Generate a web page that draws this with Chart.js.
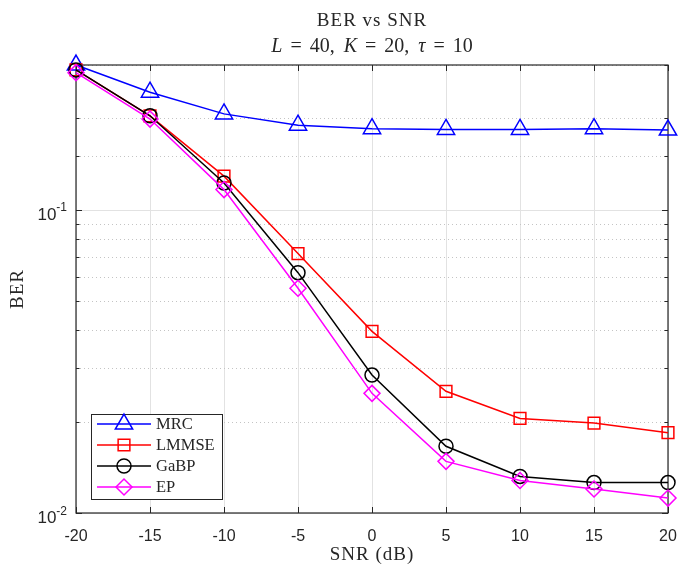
<!DOCTYPE html>
<html>
<head>
<meta charset="utf-8">
<script src="https://cdn.jsdelivr.net/npm/chart.js@4/dist/chart.umd.min.js"></script>
<style>
  html, body { margin: 0; padding: 0; background: #fff; }
  #wrap { width: 680px; height: 567px; }
</style>
</head>
<body>
<div id="wrap"><canvas id="berChart" width="680" height="567"></canvas></div>
<script>
// SNR points (dB) and BER per detector
const snr = [-20, -15, -10, -5, 0, 5, 10, 15, 20];
const berMRC   = [0.300, 0.244, 0.207, 0.190, 0.185, 0.184, 0.184, 0.185, 0.183];
const berLMMSE = [0.289, 0.204, 0.129, 0.0717, 0.0397, 0.0252, 0.0205, 0.0198, 0.0184];
const berGaBP  = [0.289, 0.204, 0.1225, 0.0620, 0.0285, 0.0166, 0.0132, 0.0126, 0.0126];
const berEP    = [0.283, 0.199, 0.1165, 0.0551, 0.0248, 0.0148, 0.0128, 0.0120, 0.0112];

const seriesNames = ['MRC', 'LMMSE', 'GaBP', 'EP'];
const xTickStep = 5;
const yRange = [0.01, 0.3];

const INK = '#262626';
const SERIF = '"Liberation Serif", "DejaVu Serif", serif';
const SANS = '"Liberation Sans", Arial, sans-serif';

// Markers drawn with the same geometry Chart.js uses for its point styles
function drawMarker(ctx, style, x, y, r) {
    ctx.beginPath();
    if (style === 'triangle') {
        for (let i = 0; i < 3; i++) {
            const a = i * 2 * Math.PI / 3;
            const px = x + Math.sin(a) * r, py = y - Math.cos(a) * r;
            i ? ctx.lineTo(px, py) : ctx.moveTo(px, py);
        }
        ctx.closePath();
    } else if (style === 'rect') {
        const s = Math.SQRT1_2 * r;
        ctx.rect(x - s, y - s, 2 * s, 2 * s);
    } else if (style === 'circle') {
        ctx.arc(x, y, r, 0, Math.PI * 2);
    } else if (style === 'rectRot') {
        ctx.moveTo(x - r, y); ctx.lineTo(x, y - r);
        ctx.lineTo(x + r, y); ctx.lineTo(x, y + r);
        ctx.closePath();
    }
    ctx.stroke();
}

function isDecade(v) {
    const l = Math.log10(v);
    return Math.abs(l - Math.round(l)) < 1e-6;
}

// grid, box and inward ticks, drawn under the data like MATLAB axes
const axesFrame = {
    id: 'axesFrame',
    beforeDatasetsDraw(chart) {
        const { ctx, chartArea: a, scales: { x, y } } = chart;
        const L = a.left, R = a.right, T = a.top, B = a.bottom;
        ctx.save();
        ctx.lineWidth = 1;

        x.ticks.forEach(t => {
            const px = Math.round(x.getPixelForValue(t.value)) + 0.5;
            ctx.strokeStyle = '#e2e2e2';
            ctx.beginPath(); ctx.moveTo(px, T); ctx.lineTo(px, B); ctx.stroke();
        });
        y.ticks.forEach(t => {
            const py = Math.round(y.getPixelForValue(t.value)) + 0.5;
            if (isDecade(t.value)) {
                ctx.setLineDash([]);
                ctx.strokeStyle = '#e2e2e2';
            } else {
                ctx.setLineDash([1, 3]);
                ctx.strokeStyle = '#c4c4c4';
            }
            ctx.beginPath(); ctx.moveTo(L, py); ctx.lineTo(R, py); ctx.stroke();
        });
        ctx.setLineDash([]);

        ctx.strokeStyle = INK;
        ctx.lineWidth = 1.2;
        ctx.strokeRect(L, T, R - L, B - T);

        ctx.lineWidth = 1;
        x.ticks.forEach(t => {
            const px = Math.round(x.getPixelForValue(t.value)) + 0.5;
            ctx.beginPath();
            ctx.moveTo(px, B); ctx.lineTo(px, B - 6);
            ctx.moveTo(px, T); ctx.lineTo(px, T + 6);
            ctx.stroke();
        });
        y.ticks.forEach(t => {
            const py = Math.round(y.getPixelForValue(t.value)) + 0.5;
            const len = isDecade(t.value) ? 6 : 3.5;
            ctx.beginPath();
            ctx.moveTo(L, py); ctx.lineTo(L + len, py);
            ctx.moveTo(R, py); ctx.lineTo(R - len, py);
            ctx.stroke();
        });
        ctx.restore();
    },
    afterDraw(chart) {
        const { ctx, chartArea: a, scales: { y } } = chart;
        const cx = (a.left + a.right) / 2;
        ctx.save();
        ctx.fillStyle = INK;
        ctx.textAlign = 'center';
        ctx.textBaseline = 'middle';

        // title, first line
        ctx.font = '19px ' + SERIF;
        ctx.letterSpacing = '1px';
        ctx.fillText('BER vs SNR', cx, 21);

        // title, second line with italic symbols
        const parts = [
            ['L', 1], [' ', 8], ['=', 0], [' ', 8], ['40,', 0], [' ', 9],
            ['K', 1], [' ', 8], ['=', 0], [' ', 8], ['20,', 0], [' ', 9],
            ['\u03c4', 1], [' ', 8], ['=', 0], [' ', 8], ['10', 0]
        ];
        ctx.letterSpacing = '0px';
        ctx.textAlign = 'left';
        const fontOf = it => (it === 1 ? 'italic ' : '') + '20px ' + SERIF;
        let total = 0;
        const widths = parts.map(([s, v]) => {
            if (s === ' ') return v;
            ctx.font = fontOf(v);
            return ctx.measureText(s).width;
        });
        widths.forEach(w => total += w);
        let px = cx - total / 2;
        parts.forEach(([s, v], i) => {
            if (s !== ' ') {
                ctx.font = fontOf(v);
                ctx.fillText(s, px, 47);
            }
            px += widths[i];
        });

        // axis labels
        ctx.textAlign = 'center';
        ctx.font = '19px ' + SERIF;
        ctx.letterSpacing = '1px';
        ctx.fillText('SNR (dB)', cx, 555);
        ctx.save();
        ctx.translate(18, (a.top + a.bottom) / 2);
        ctx.rotate(-Math.PI / 2);
        ctx.fillText('BER', 0, 0);
        ctx.restore();
        ctx.letterSpacing = '0px';

        // decade labels on the log axis: 10^n
        y.ticks.filter(t => isDecade(t.value)).forEach(t => {
            const py = y.getPixelForValue(t.value);
            const exp = String(Math.round(Math.log10(t.value)));
            ctx.textAlign = 'left';
            ctx.textBaseline = 'alphabetic';
            ctx.font = '12px ' + SANS;
            const supW = ctx.measureText(exp).width;
            ctx.font = '17px ' + SANS;
            const baseW = ctx.measureText('10').width;
            const right = a.left - 9;
            ctx.fillText('10', right - supW - baseW, py + 10);
            ctx.font = '12px ' + SANS;
            ctx.fillText(exp, right - supW, py + 1.5);
        });

        // legend box
        const lx = 91, ly = 414, lw = 131, lh = 85;
        ctx.fillStyle = '#fff';
        ctx.fillRect(lx, ly, lw, lh);
        ctx.strokeStyle = INK;
        ctx.lineWidth = 1;
        ctx.strokeRect(lx + 0.5, ly + 0.5, lw, lh);
        ctx.textAlign = 'left';
        ctx.textBaseline = 'middle';
        ctx.font = '16.5px ' + SERIF;
        chart.data.datasets.forEach((ds, i) => {
            const ey = 424 + i * 21;
            ctx.strokeStyle = ds.borderColor;
            ctx.lineWidth = ds.borderWidth;
            ctx.beginPath(); ctx.moveTo(97, ey); ctx.lineTo(151, ey); ctx.stroke();
            drawMarker(ctx, ds.pointStyle, 124, ey, ds.pointRadius);
            ctx.fillStyle = INK;
            ctx.fillText(ds.label, 156, ey + 1);
        });
        ctx.restore();
    }
};

function series(label, data, color, style, radius, order) {
    return {
        label, data, order,
        borderColor: color,
        backgroundColor: color,
        borderWidth: 1.5,
        pointStyle: style,
        pointRadius: radius,
        pointHoverRadius: radius,
        pointBorderWidth: 1.5,
        pointBorderColor: color,
        pointBackgroundColor: 'rgba(0,0,0,0)',
        tension: 0,
        clip: false
    };
}

const points = arr => snr.map((s, i) => ({ x: s, y: arr[i] }));

new Chart(document.getElementById('berChart'), {
    type: 'line',
    data: {
        datasets: [
            series(seriesNames[0], points(berMRC), '#0000ff', 'triangle', 10, 3),
            series(seriesNames[1], points(berLMMSE), '#ff0000', 'rect', 8.3, 2),
            series(seriesNames[2], points(berGaBP), '#000000', 'circle', 7, 1),
            series(seriesNames[3], points(berEP), '#ff00ff', 'rectRot', 8, 0)
        ]
    },
    options: {
        responsive: false,
        animation: false,
        devicePixelRatio: 1,
        layout: { padding: { top: 65, right: 12, left: 0, bottom: 0 } },
        plugins: {
            legend: { display: false },
            title: { display: false },
            tooltip: { enabled: false }
        },
        scales: {
            x: {
                type: 'linear',
                min: snr[0],
                max: snr[snr.length - 1],
                grid: { display: false, drawTicks: false },
                border: { display: false },
                ticks: {
                    stepSize: xTickStep,
                    maxRotation: 0,
                    autoSkip: false,
                    padding: 14,
                    color: INK,
                    font: { family: SANS, size: 16 }
                },
                afterFit(s) {
                    s.height = 54;
                    s.paddingLeft = 0;
                    s.paddingRight = 0;
                }
            },
            y: {
                type: 'logarithmic',
                min: yRange[0],
                max: yRange[1],
                grid: { display: false, drawTicks: false },
                border: { display: false },
                ticks: { display: false },
                afterFit(s) { s.width = 76; }
            }
        }
    },
    plugins: [axesFrame]
});
</script>
</body>
</html>
